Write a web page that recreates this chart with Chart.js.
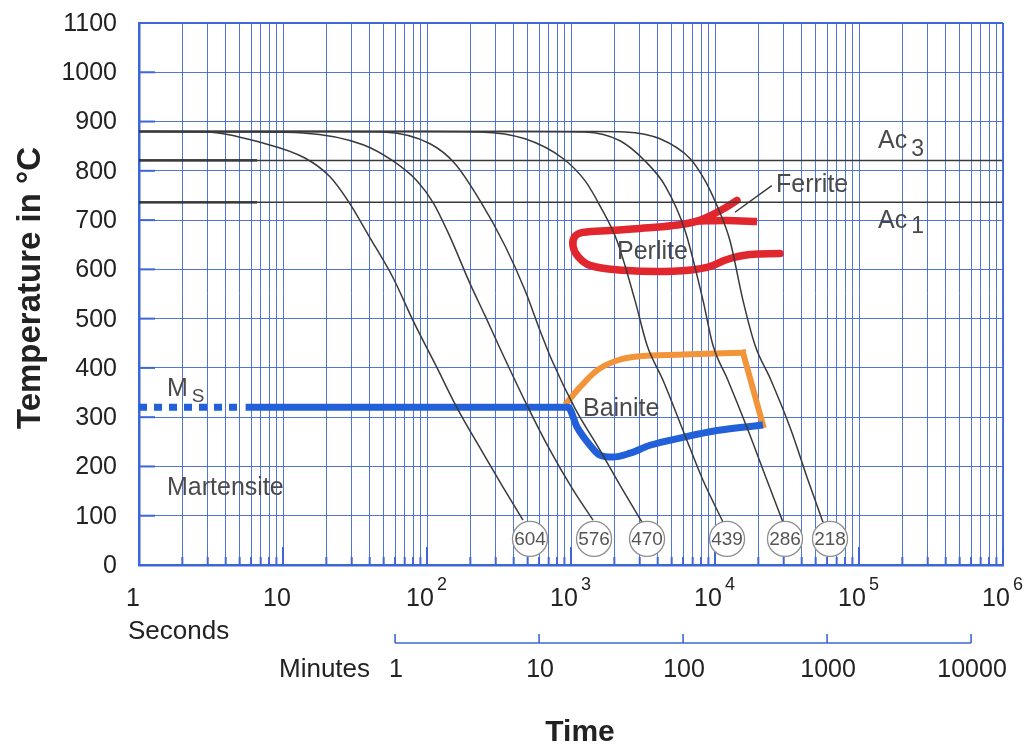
<!DOCTYPE html>
<html>
<head>
<meta charset="utf-8">
<script src="https://cdn.jsdelivr.net/npm/chart.js"></script>
<style>
  html, body { margin: 0; background: #fff; }
</style>
</head>
<body>
<canvas id="cct" width="1027" height="744"></canvas>
<script>
// ---- values: [time in s, temperature in °C] ----
const curve604 = [[1,880],[2.97,879],[6.92,858],[14.2,826],[21.2,788],[28.3,739],[40.2,664],[58.1,583],[80,496],[117,401],[161,320],[245,227],[337,158],[464,91]];
const curve576 = [[1,880],[6,879],[13.8,877],[36,853],[58,820],[85,780],[110,736],[144,667],[199,571],[253,506],[321,440],[503,320],[715,233],[1016,156],[1422,91]];
const curve470 = [[1,880],[25,880],[49.5,879],[105,855],[156,815],[233,740],[348,648],[480,557],[609,476],[738,415],[1066,318],[1589,233],[2188,162],[3111,87]];
const curve439 = [[1,880],[100,880],[233,879],[480,865],[880,825],[1250,780],[1589,729],[2086,658],[2782,537],[3373,446],[4355,375],[5998,273],[8255,172],[11370,87]];
const curve286 = [[1,880],[500,880],[1250,879],[2188,861],[3266,820],[4498,770],[6190,679],[8255,537],[9680,446],[12300,375],[16940,274],[22960,172],[29650,87]];
const curve218 = [[1,880],[1500,880],[2371,879],[4150,865],[6700,825],[8530,780],[10330,729],[12710,658],[15640,537],[18970,446],[24480,375],[33710,274],[44270,172],[56230,87]];

const hardness = [604, 576, 470, 439, 286, 218];
const hardnessTimes = [519, 1445, 3373, 12120, 30620, 62920];
const hardnessTemp = 53;

const ac3 = 821;
const ac1 = 736;
const acStrongEnd = 6.6;

const perliteOutline = [[14210,740],[10830,719],[7502,698],[5109,689],[3013,683],[1866,679],[1211,675],[1066,667],[1032,648],[1119,626],[1355,608],[2296,598],[5109,596],[8790,604],[12120,620],[17500,630],[28250,632]];
const ferriteBranch = [[7502,698],[12120,699],[19580,697]];

const msTemp = 320;
const msDotted = [[1,320],[4.8,320]];
const bainiteFinish = [[5.5,320],[953,320],[1101,280],[1355,243],[1585,223],[1957,219],[2570,227],[3537,243],[5998,259],[10320,273],[21550,284]];
const bainiteStart = [[938,330],[1155,361],[1517,395],[2084,415],[2873,423],[5998,427],[15640,431]];
const bainiteStartRight = [[15640,431],[21550,284]];

const secondDecades = [0, 1, 2, 3, 4, 5, 6];
const minuteTicks = [1, 10, 100, 1000, 10000];
const tempTicks = [0, 100, 200, 300, 400, 500, 600, 700, 800, 900, 1000, 1100];

// ---- styling ----
const FONT = '"Liberation Sans", Arial, Helvetica, sans-serif';
const GRID = 'rgba(58,98,216,0.88)';
const AXIS = '#3d67d8';
const CURVE = '#3a3a3a';
const NOTE = '#4a4a4a';

const pts = a => a.map(([x, y]) => ({ x, y }));
function series(data, color, width, extra) {
  return Object.assign({
    data: pts(data), borderColor: color, borderWidth: width,
    pointRadius: 0, fill: false, tension: 0, order: 1
  }, extra || {});
}

const cooling = [curve604, curve576, curve470, curve439, curve286, curve218].map(c =>
  series(c, CURVE, 1.5, { cubicInterpolationMode: 'monotone', order: 1 }));

const datasets = [
  { data: hardnessTimes.map(t => ({ x: t, y: hardnessTemp })), showLine: false,
    pointRadius: 17.5, pointBackgroundColor: '#fff', pointBorderColor: '#8e8e8e',
    pointBorderWidth: 1.3, order: 0 },
  ...cooling,
  series([[1, ac3], [1e6, ac3]], '#3a3a3a', 1.5, { order: 2 }),
  series([[1, ac1], [1e6, ac1]], '#3a3a3a', 1.5, { order: 2 }),
  series([[1, ac3], [acStrongEnd, ac3]], '#111', 2.2, { order: 2 }),
  series([[1, ac1], [acStrongEnd, ac1]], '#111', 2.2, { order: 2 }),
  series(perliteOutline, '#e1262d', 7.5, { tension: 0.4, borderCapStyle: 'round', order: 3 }),
  series(ferriteBranch, '#e1262d', 7.5, { tension: 0.3, order: 3 }),
  series(msDotted, '#2160d8', 7, { borderDash: [8, 7], order: 3 }),
  series(bainiteFinish, '#2160d8', 7, { cubicInterpolationMode: 'monotone', order: 3 }),
  series(bainiteStart, '#f2943a', 6, { cubicInterpolationMode: 'monotone', borderCapStyle: 'square', order: 3 }),
  series(bainiteStartRight, '#f2943a', 6, { borderCapStyle: 'square', order: 3 })
];

function seg(ctx, x1, y1, x2, y2) {
  ctx.beginPath(); ctx.moveTo(x1, y1); ctx.lineTo(x2, y2); ctx.stroke();
}
function text(ctx, s, px, py, size, color, align, weight, baseline) {
  ctx.font = (weight || 'normal') + ' ' + size + 'px ' + FONT;
  ctx.fillStyle = color;
  ctx.textAlign = align || 'left';
  ctx.textBaseline = baseline || 'alphabetic';
  ctx.fillText(s, px, py);
  return ctx.measureText(s).width;
}

// annotation anchors in data units (time s, temperature °C)
const notes = [
  { s: 'Ac', sub: '3', t: 135500, T: 847, drop: 8 },
  { s: 'Ac', sub: '1', t: 135500, T: 683, drop: 5 },
  { s: 'Ferrite', t: 26540, T: 756 },
  { s: 'Perlite', t: 2086, T: 622 },
  { s: 'Bainite', t: 1211, T: 302 },
  { s: 'M', sub: 'S', t: 1.565, T: 344, drop: 6 },
  { s: 'Martensite', t: 1.565, T: 142 }
];
const ferriteLeader = [[13770, 716], [24770, 770]];

const overlay = {
  id: 'overlay',
  beforeDatasetsDraw(chart) {
    const { ctx, chartArea: a, scales: { x, y } } = chart;
    ctx.save();
    ctx.strokeStyle = AXIS;
    ctx.lineWidth = 2;
    tempTicks.forEach(v => {
      if (v === 0 || v === 1100) return;
      const py = y.getPixelForValue(v);
      seg(ctx, a.left, py, a.left + 16, py);
    });
    x.ticks.forEach(t => {
      const px = x.getPixelForValue(t.value);
      const e = Math.round(Math.log10(t.value) * 1e6) / 1e6;
      const h = Number.isInteger(e) ? 18 : 8;
      seg(ctx, px, a.bottom, px, a.bottom - h);
    });
    ctx.restore();
  },
  afterDatasetsDraw(chart) {
    const { ctx, scales: { x, y } } = chart;
    ctx.save();
    // hardness numbers in circles
    hardness.forEach((h, i) => {
      text(ctx, String(h), x.getPixelForValue(hardnessTimes[i]), y.getPixelForValue(hardnessTemp) + 1,
           19, '#555', 'center', 'normal', 'middle');
    });
    // ferrite leader line
    ctx.strokeStyle = '#333';
    ctx.lineWidth = 1.3;
    seg(ctx, x.getPixelForValue(ferriteLeader[0][0]), y.getPixelForValue(ferriteLeader[0][1]),
             x.getPixelForValue(ferriteLeader[1][0]), y.getPixelForValue(ferriteLeader[1][1]));
    notes.forEach(n => {
      const px = x.getPixelForValue(n.t), py = y.getPixelForValue(n.T);
      const w = text(ctx, n.s, px, py, 25, NOTE);
      if (n.sub) text(ctx, n.sub, px + w + 4, py + n.drop, n.sub === 'S' ? 19 : 23, NOTE);
    });
    ctx.restore();
  },
  afterDraw(chart) {
    const { ctx, chartArea: a, scales: { x, y } } = chart;
    ctx.save();
    // frame top/right
    ctx.strokeStyle = AXIS;
    ctx.lineWidth = 1.8;
    seg(ctx, a.left, a.top, a.right, a.top);
    seg(ctx, a.right, a.top, a.right, a.bottom);

    // temperature labels
    tempTicks.forEach(v => text(ctx, String(v), a.left - 22, y.getPixelForValue(v) + 1, 25, '#222', 'right', 'normal', 'middle'));

    // seconds labels
    secondDecades.forEach(e => {
      const px = x.getPixelForValue(Math.pow(10, e));
      if (e === 0) text(ctx, '1', px - 6, 606, 25, '#222', 'center');
      else if (e === 1) text(ctx, '10', px - 6, 606, 25, '#222', 'center');
      else {
        const w = text(ctx, '10', px - 7, 606, 25, '#222', 'center');
        text(ctx, String(e), px - 7 + w / 2 + 3, 590, 18, '#222', 'left');
      }
    });
    text(ctx, 'Seconds', 128, 639, 26, '#222', 'left');

    // minutes axis
    const my = 643;
    const mx = minuteTicks.map(m => x.getPixelForValue(m * 60));
    ctx.strokeStyle = AXIS;
    ctx.lineWidth = 1.6;
    seg(ctx, mx[0], my, mx[mx.length - 1], my);
    mx.forEach(px => seg(ctx, px, my, px, my - 9));
    minuteTicks.forEach((m, i) => text(ctx, String(m), mx[i] + 1, 677, 25, '#222', 'center'));
    text(ctx, 'Minutes', mx[0] - 25, 677, 26, '#222', 'right');

    // axis titles
    text(ctx, 'Time', 580, 741, 30, '#222', 'center', 'bold');
    ctx.translate(31, 288);
    ctx.rotate(-Math.PI / 2);
    text(ctx, 'Temperature in °C', 0, 0, 33, '#222', 'center', 'bold', 'middle');
    ctx.restore();
  }
};

new Chart(document.getElementById('cct'), {
  type: 'line',
  data: { datasets },
  options: {
    responsive: false,
    animation: false,
    events: [],
    layout: { padding: { top: 23, right: 24, left: 0, bottom: 0 } },
    plugins: { legend: { display: false }, tooltip: { enabled: false } },
    scales: {
      x: {
        type: 'logarithmic', min: 1, max: 1e6,
        afterBuildTicks: s => {
          const t = [];
          for (let e = 0; e < 6; e++) for (let m = 1; m < 10; m++) t.push({ value: m * Math.pow(10, e) });
          t.push({ value: 1e6 });
          s.ticks = t;
        },
        afterFit: s => { s.height = 179; },
        ticks: { display: false },
        grid: { color: GRID, lineWidth: 1, drawTicks: false },
        border: { color: AXIS, width: 2.5 }
      },
      y: {
        min: 0, max: 1100,
        afterBuildTicks: s => { s.ticks = tempTicks.map(v => ({ value: v })); },
        afterFit: s => { s.width = 139; },
        ticks: { display: false },
        grid: { color: GRID, lineWidth: 1, drawTicks: false },
        border: { color: AXIS, width: 2.5 }
      }
    }
  },
  plugins: [overlay]
});
</script>
</body>
</html>
